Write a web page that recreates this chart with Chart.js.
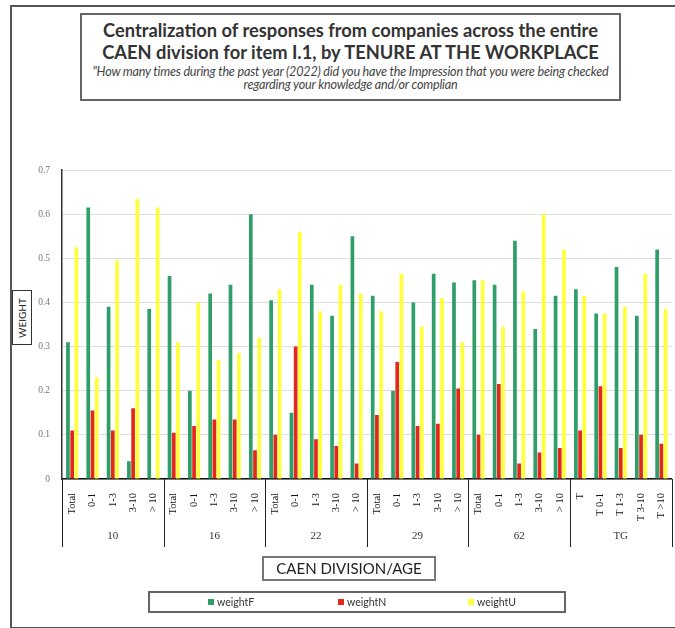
<!DOCTYPE html>
<html>
<head>
<meta charset="utf-8">
<script src="https://cdn.jsdelivr.net/npm/chart.js@4.4.0/dist/chart.umd.min.js"></script>
<style>
  html, body { margin: 0; padding: 0; background: #fff; overflow: hidden; }
  body { width: 675px; height: 628px; position: relative; font-family: "Lato", "Liberation Sans", sans-serif; }
  #frame { position: absolute; left: 10px; top: 5px; width: 700px; height: 620px;
           border-left: 2px solid #555; border-top: 2px solid #555; border-bottom: 2px solid #555; }
  #wrap { position: absolute; left: 0; top: 0; width: 680px; height: 628px; }
  #titleBox { position: absolute; left: 80px; top: 13px; width: 537px; height: 84px;
              border: 2px solid #666; background: #fff; text-align: center; color: #333; }
  #titleBox .t { font-weight: bold; font-size: 18.3px; line-height: 22px; margin-top: 4px; }
  #titleBox .s { font-style: italic; font-size: 12.6px; line-height: 12.5px; margin-top: 3px; color: #444; letter-spacing: -0.2px; white-space: nowrap; }
  #yTitle { position: absolute; left: 12px; top: 290px; width: 20px; height: 55px; border: 1.5px solid #333;
            background: #fff; box-sizing: border-box; }
  #yTitle span { position: absolute; left: 50%; top: 50%; transform: translate(-50%, -50%) rotate(-90deg);
                 font-size: 10px; color: #222; white-space: nowrap; }
  #xTitle { position: absolute; left: 262px; top: 556px; width: 174px; height: 25px; border: 2px solid #777;
            box-sizing: border-box; text-align: center; font-size: 15px; line-height: 21px; color: #222; }
  #legend { position: absolute; left: 148px; top: 591px; width: 418px; height: 22px; border: 2px solid #666;
            box-sizing: border-box; font-size: 10.5px; color: #333; }
  #legend .item { position: absolute; top: 3px; line-height: 13px; }
  #legend .sw { display: inline-block; width: 6px; height: 6px; margin-right: 3px; vertical-align: 1px; }
</style>
</head>
<body>
<div id="frame"></div>
<div id="wrap"><canvas id="chart" width="680" height="628"></canvas></div>
<div id="titleBox">
  <div class="t">Centralization of responses from companies across the entire<br>CAEN division for item I.1, by TENURE AT THE WORKPLACE</div>
  <div class="s">"How many times during the past year (2022) did you have the Impression that you were being checked<br>regarding your knowledge and/or complian</div>
</div>
<div id="yTitle"><span>WEIGHT</span></div>
<div id="xTitle">CAEN DIVISION/AGE</div>
<div id="legend"></div>
<script>
// CAEN divisions and the tenure bands shown inside each one
const divisions = ['10', '16', '22', '29', '62', 'TG'];
const tenureLabels = [
  'Total', '0-1', '1-3', '3-10', '> 10',
  'Total', '0-1', '1-3', '3-10', '> 10',
  'Total', '0-1', '1-3', '3-10', '> 10',
  'Total', '0-1', '1-3', '3-10', '> 10',
  'Total', '0-1', '1-3', '3-10', '> 10',
  'T', 'T 0-1', 'T 1-3', 'T 3-10', 'T >10'
];
const bandsPerDivision = 5;

const weightF = [0.31, 0.615, 0.39, 0.04, 0.385,
                 0.46, 0.20, 0.42, 0.44, 0.60,
                 0.405, 0.15, 0.44, 0.37, 0.55,
                 0.415, 0.20, 0.40, 0.465, 0.445,
                 0.45, 0.44, 0.54, 0.34, 0.415,
                 0.43, 0.375, 0.48, 0.37, 0.52];
const weightN = [0.11, 0.155, 0.11, 0.16, 0,
                 0.105, 0.12, 0.135, 0.135, 0.065,
                 0.10, 0.30, 0.09, 0.075, 0.035,
                 0.145, 0.265, 0.12, 0.125, 0.205,
                 0.10, 0.215, 0.035, 0.06, 0.07,
                 0.11, 0.21, 0.07, 0.10, 0.08];
const weightU = [0.525, 0.23, 0.495, 0.635, 0.615,
                 0.31, 0.40, 0.27, 0.285, 0.32,
                 0.43, 0.56, 0.38, 0.44, 0.42,
                 0.38, 0.465, 0.345, 0.41, 0.31,
                 0.45, 0.345, 0.425, 0.60, 0.52,
                 0.415, 0.375, 0.39, 0.465, 0.385];
const yTicks = [0, 0.1, 0.2, 0.3, 0.4, 0.5, 0.6, 0.7];

const series = [
  { label: 'weightF', data: weightF, color: '#2f9e68' },
  { label: 'weightN', data: weightN, color: '#e2281b' },
  { label: 'weightU', data: weightU, color: '#ffff3c' }
];

// Division names under the tenure labels, with separators between divisions
const divisionAxis = {
  id: 'divisionAxis',
  afterDraw(chart) {
    const ctx = chart.ctx;
    const x = chart.scales.x;
    const area = chart.chartArea;
    const top = area.bottom;
    const bottom = area.bottom + 68;
    const half = (x.getPixelForValue(1) - x.getPixelForValue(0)) / 2;
    ctx.save();
    ctx.strokeStyle = '#222';
    ctx.lineWidth = 1;
    for (let g = 0; g <= divisions.length; g++) {
      const idx = g * bandsPerDivision;
      const px = Math.round(x.getPixelForValue(Math.min(idx, tenureLabels.length - 1)) + (idx >= tenureLabels.length ? half : -half)) + 0.5;
      ctx.beginPath();
      ctx.moveTo(px, top);
      ctx.lineTo(px, bottom);
      ctx.stroke();
    }
    ctx.fillStyle = '#333';
    ctx.font = '11px "Liberation Serif", serif';
    ctx.textAlign = 'center';
    ctx.textBaseline = 'middle';
    divisions.forEach((d, g) => {
      const a = x.getPixelForValue(g * bandsPerDivision) - half;
      const b = x.getPixelForValue(g * bandsPerDivision + bandsPerDivision - 1) + half;
      ctx.fillText(d, (a + b) / 2, area.bottom + 57);
    });
    ctx.restore();
  }
};

new Chart(document.getElementById('chart'), {
  type: 'bar',
  data: {
    labels: tenureLabels,
    datasets: series.map(s => ({
      label: s.label,
      data: s.data,
      backgroundColor: s.color,
      borderWidth: 0,
      categoryPercentage: 0.62,
      barPercentage: 0.88
    }))
  },
  options: {
    responsive: false,
    animation: false,
    layout: { padding: { top: 170, right: 3, left: 0, bottom: 0 } },
    plugins: { legend: { display: false }, tooltip: { enabled: false } },
    scales: {
      x: {
        grid: { display: false },
        border: { display: true, color: '#111', width: 1.5 },
        ticks: {
          minRotation: 90, maxRotation: 90, autoSkip: false, padding: 6,
          color: '#111', font: { family: '"Liberation Serif", serif', size: 10.5 }
        },
        afterFit(scale) { scale.height = 149; }
      },
      y: {
        min: 0, max: 0.7,
        afterBuildTicks(scale) { scale.ticks = yTicks.map(v => ({ value: v })); },
        grid: { color: '#dedede', lineWidth: 1, drawTicks: false },
        border: { display: true, color: '#333', width: 1.5 },
        ticks: {
          padding: 12, color: '#777',
          font: { family: '"Liberation Serif", serif', size: 9.5 },
          callback: v => String(v)
        },
        afterFit(scale) { scale.width = 62; }
      }
    }
  },
  plugins: [divisionAxis]
});

// Legend strip built from the same series definitions
const legend = document.getElementById('legend');
const legendX = [58, 188, 318];
series.forEach((s, i) => {
  const item = document.createElement('div');
  item.className = 'item';
  item.style.left = legendX[i] + 'px';
  item.innerHTML = '<span class="sw" style="background:' + s.color + '"></span>' + s.label;
  legend.appendChild(item);
});
</script>
</body>
</html>
